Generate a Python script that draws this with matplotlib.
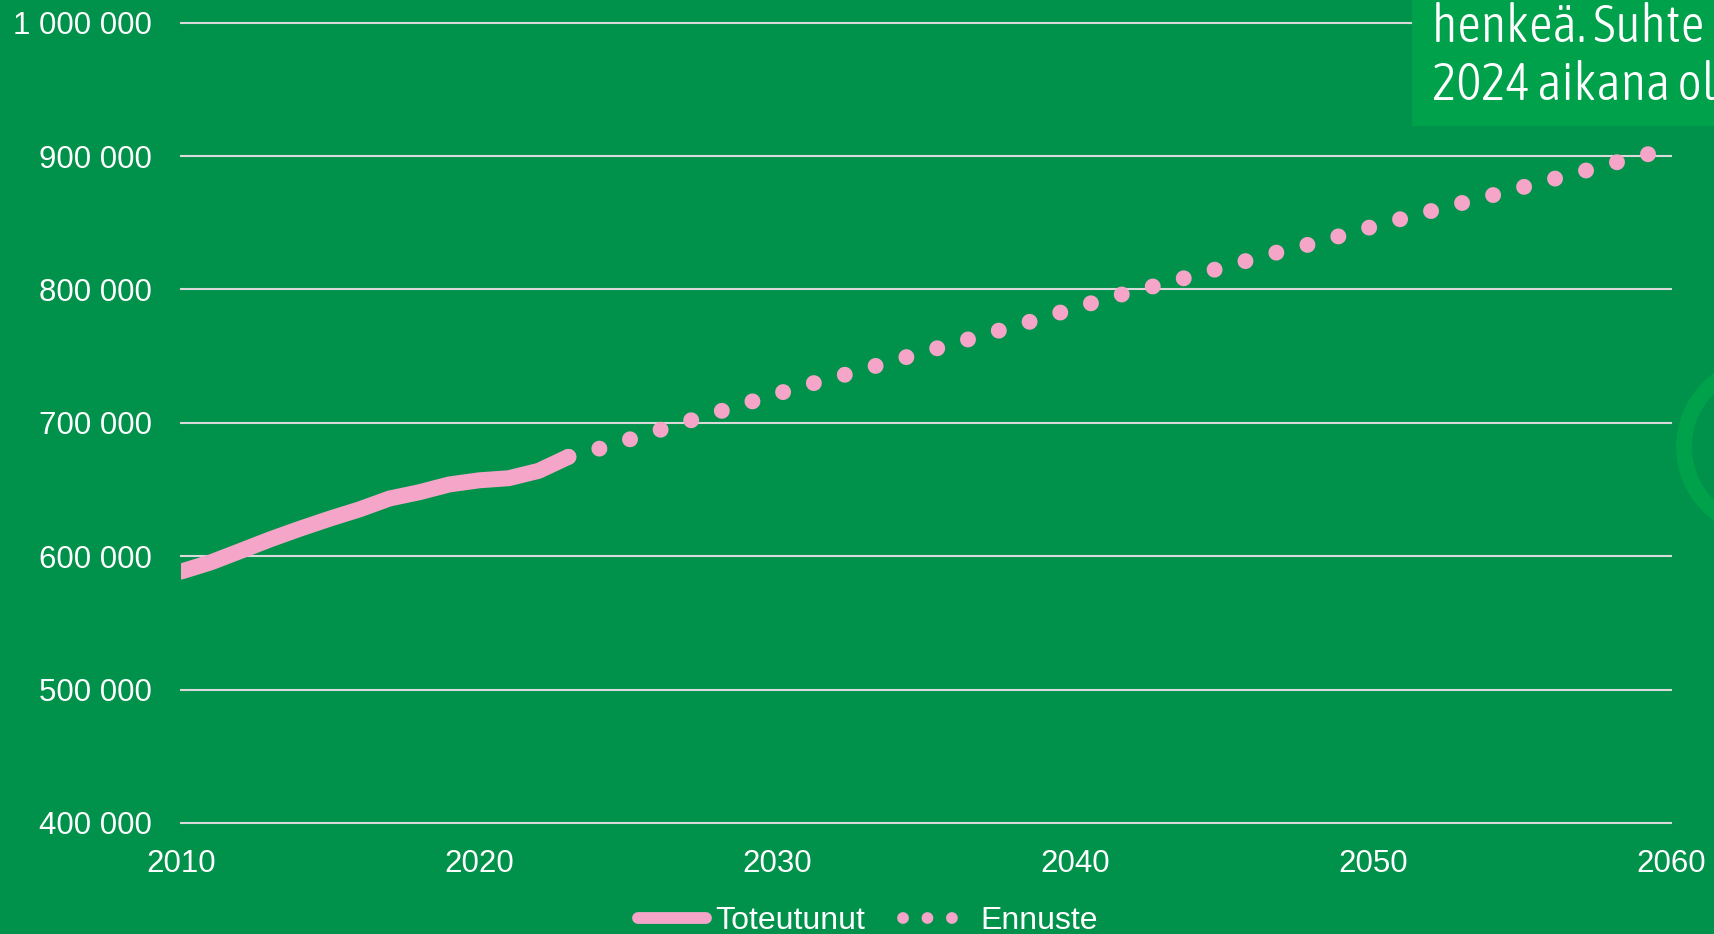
import numpy as np
import matplotlib
matplotlib.use("Agg")
import matplotlib.pyplot as plt
from matplotlib.lines import Line2D
from matplotlib.patches import Rectangle, Circle
from matplotlib.ticker import FuncFormatter

# data
years_actual = [2010, 2011, 2012, 2013, 2014, 2015, 2016, 2017, 2018, 2019,
                2020, 2021, 2022, 2023]
pop_actual = [588500, 595400, 604000, 612700, 620700, 628200, 635200, 643300,
              648000, 653800, 656900, 658500, 664000, 674500]

years_fc = list(range(2023, 2061))
pop_fc = [674500, 680400, 687200, 694200, 701100, 708000, 714900, 721700,
          728400, 734300, 740700, 747100, 753500, 759900, 766300, 772700,
          779100, 786200, 792600, 799000, 804300, 810600, 816800, 823000,
          829100, 834500, 840800, 847200, 853200, 859100, 864900, 870600,
          876500, 882500, 888300, 894300, 900100, 905900]

x_ticks = [2010, 2020, 2030, 2040, 2050, 2060]
y_ticks = [400000, 500000, 600000, 700000, 800000, 900000, 1000000]
labels = ["Toteutunut", "Ennuste"]
box_lines = ["henkeä. Suhte", "2024 aikana ol"]

bg = "#00914A"
box_col = "#00A14B"
pink = "#F5A5C8"
grid_col = "#D9D9D9"

plt.rcParams['font.family'] = ['Liberation Sans', 'DejaVu Sans']

fig = plt.figure(figsize=(17.14, 9.34), dpi=100, facecolor=bg)
ax = fig.add_axes([181/1714, 1 - 823/934, (1671-181)/1714, (823-22.7)/934])
ax.set_facecolor(bg)

# solid line for history, round dots for forecast
ax.plot(years_actual, pop_actual, color=pink, lw=11.5,
        solid_capstyle='round', solid_joinstyle='round', zorder=3)
ax.plot(years_fc, pop_fc, color=pink, lw=11.5,
        linestyle=(0, (0.001, 2.005)), dash_capstyle='round', zorder=2)

ax.set_xlim(2010, 2060)
ax.set_ylim(400000, 1000000)
ax.set_xticks(x_ticks)
ax.set_yticks(y_ticks)
ax.yaxis.set_major_formatter(FuncFormatter(lambda v, p: f"{int(v):,}".replace(",", " ")))
ax.tick_params(axis='both', length=0, labelcolor='white', labelsize=22.5)
ax.tick_params(axis='y', pad=21)
ax.tick_params(axis='x', pad=19)

ax.set_axisbelow(True)
ax.yaxis.grid(True, color=grid_col, lw=1.5)
ax.xaxis.grid(False)
for gl in ax.get_ygridlines():
    gl.set_clip_on(False)
for s in ax.spines.values():
    s.set_visible(False)

h_solid = Line2D([], [], color=pink, lw=8.5, solid_capstyle='round')
h_dots = Line2D([], [], color=pink, lw=8.5, linestyle=(0, (0.001, 2.07)),
                dash_capstyle='round')
fig.legend([h_solid, h_dots], labels, loc='center', ncol=2,
           bbox_to_anchor=(868/1714, 1 - 921/934), frameon=False,
           fontsize=23, labelcolor='white', handlelength=2.1,
           handletextpad=0.3, columnspacing=1.2, borderpad=0, borderaxespad=0)

# cut-off text box and ring from the slide behind the chart
fig.add_artist(Rectangle((1412/1714, 1 - 126/934), 1 - 1412/1714, 126/934,
                         transform=fig.transFigure, facecolor=box_col,
                         edgecolor='none', zorder=1))
box_font = ['Asap Condensed', 'Open Sans', 'DejaVu Sans']
fig.text(1432/1714, 1 - 42/934, box_lines[0], color='white', fontsize=37.5,
         family=box_font, fontweight=300, va='baseline', ha='left', zorder=3)
fig.text(1432/1714, 1 - 100/934, box_lines[1], color='white', fontsize=37.5,
         family=box_font, fontweight=300, va='baseline', ha='left', zorder=3)
fig.add_artist(Circle((17.67, (934 - 447)/100), 0.83, transform=fig.dpi_scale_trans,
                      fill=False, edgecolor=box_col, lw=11.5, zorder=1))

fig.savefig("out.png", dpi=100, facecolor=bg)
